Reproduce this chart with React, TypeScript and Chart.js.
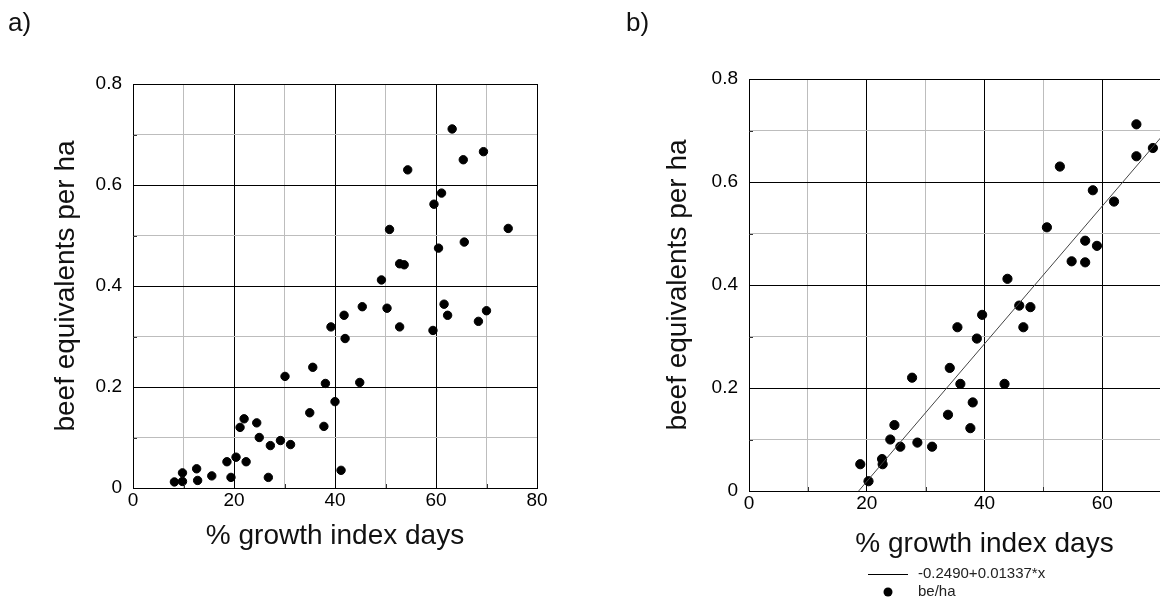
import React, { useEffect, useRef } from "react";
import { Chart, registerables } from "chart.js";

Chart.register(...registerables);

// ---- Data ----
const aX = [8.2, 9.8, 9.8, 12.6, 12.8, 15.6, 18.6, 19.4, 20.4, 22.4, 21.2, 22.0, 24.5, 25.0, 26.8, 27.2, 29.2, 31.2, 30.1, 35.0, 35.6, 37.8, 38.1, 40.0, 41.2, 39.2, 41.8, 42.0, 44.9, 45.4, 49.2, 50.3, 50.8, 52.8, 52.8, 53.7, 54.4, 59.4, 59.6, 60.5, 61.1, 61.6, 62.3, 63.2, 65.4, 65.6, 68.4, 69.4, 70.0, 74.3];
const aY = [0.012, 0.013, 0.030, 0.038, 0.015, 0.024, 0.052, 0.021, 0.061, 0.052, 0.120, 0.137, 0.129, 0.100, 0.021, 0.084, 0.094, 0.086, 0.221, 0.149, 0.239, 0.122, 0.207, 0.171, 0.035, 0.319, 0.342, 0.296, 0.209, 0.359, 0.412, 0.356, 0.512, 0.319, 0.444, 0.442, 0.630, 0.312, 0.562, 0.475, 0.584, 0.364, 0.342, 0.711, 0.650, 0.487, 0.330, 0.666, 0.351, 0.514];

const bX = [18.9, 20.3, 22.6, 22.7, 24.0, 24.7, 25.7, 27.7, 28.6, 31.1, 33.8, 34.1, 35.4, 35.9, 37.6, 38.0, 38.7, 39.6, 43.4, 43.9, 45.9, 46.6, 47.8, 50.6, 52.8, 54.8, 57.1, 57.1, 58.4, 59.1, 62.0, 65.8, 65.8, 68.6];
const bY = [0.052, 0.019, 0.062, 0.052, 0.100, 0.128, 0.086, 0.220, 0.094, 0.086, 0.148, 0.239, 0.318, 0.208, 0.122, 0.172, 0.296, 0.342, 0.208, 0.412, 0.360, 0.318, 0.357, 0.512, 0.630, 0.446, 0.486, 0.444, 0.584, 0.476, 0.562, 0.712, 0.650, 0.666];

// fitted line endpoints as drawn
const regX = [18.62, 80];
const regY = [0, 0.8206];

const xTickLabels = ["0", "20", "40", "60", "80"];
const yTickLabels = ["0", "0.2", "0.4", "0.6", "0.8"];
const xMinorTicks = [10, 30, 50, 70];
const yMinorTicks = [0.1, 0.3, 0.5, 0.7];
const xTitle = "% growth index days";
const yTitle = "beef equivalents per ha";
const legendLineLabel = "-0.2490+0.01337*x";
const legendDotLabel = "be/ha";
const panelLabels = ["a)", "b)"];

const FONT = "'Liberation Sans', Arial, Helvetica, sans-serif";

function pts(xs: number[], ys: number[]) {
  return xs.map((x, i) => ({ x, y: ys[i] }));
}

function makeScales(yWidth: number, xHeight: number, yTitlePad: number, xTitlePad: number) {
  return {
    x: {
      type: "linear",
      min: 0,
      max: 80,
      afterFit: (s: any) => {
        s.height = xHeight;
      },
      ticks: {
        stepSize: 10,
        padding: 1,
        color: "#000",
        font: { family: FONT, size: 19 },
        maxRotation: 0,
        autoSkip: false,
        callback: (v: number) => {
          const idx = Math.round(v / 20);
          return Math.abs(v - idx * 20) < 1e-6 ? xTickLabels[idx] : "";
        },
      },
      grid: {
        drawTicks: false,
        color: (c: any) => (Math.round(c.tick.value) % 20 === 0 ? "#000" : "#bdbdbd"),
        lineWidth: 1,
      },
      border: { color: "#000", width: 1 },
      title: {
        display: true,
        text: xTitle,
        color: "#111",
        font: { family: FONT, size: 28 },
        padding: { top: 0, bottom: xTitlePad },
      },
    },
    y: {
      type: "linear",
      min: 0,
      max: 0.8,
      afterFit: (s: any) => {
        s.width = yWidth;
      },
      ticks: {
        stepSize: 0.1,
        padding: 11,
        color: "#000",
        font: { family: FONT, size: 19 },
        autoSkip: false,
        callback: (v: number) => {
          const n = Math.round(v * 10);
          return n % 2 === 0 ? yTickLabels[n / 2] : "";
        },
      },
      grid: {
        drawTicks: false,
        color: (c: any) => (Math.round(c.tick.value * 10) % 2 === 0 ? "#000" : "#bdbdbd"),
        lineWidth: 1,
      },
      border: { color: "#000", width: 1 },
      title: {
        display: true,
        text: yTitle,
        color: "#111",
        font: { family: FONT, size: 28 },
        padding: { top: yTitlePad, bottom: 0 },
      },
    },
  };
}

// short dark minor tick marks on the inside of the axes
const minorTickPlugin = {
  id: "minorTicks",
  afterDatasetsDraw(chart: any) {
    const { ctx, chartArea, scales } = chart;
    ctx.save();
    ctx.strokeStyle = "#333";
    ctx.lineWidth = 1;
    ctx.beginPath();
    yMinorTicks.forEach((v) => {
      const py = Math.round(scales.y.getPixelForValue(v)) + 0.5;
      ctx.moveTo(chartArea.left, py);
      ctx.lineTo(chartArea.left + 4, py);
    });
    xMinorTicks.forEach((v) => {
      const px = Math.round(scales.x.getPixelForValue(v)) + 0.5;
      ctx.moveTo(px, chartArea.bottom);
      ctx.lineTo(px, chartArea.bottom - 4);
    });
    ctx.stroke();
    ctx.restore();
  },
};

const legendPlugin = {
  id: "eqLegend",
  afterDraw(chart: any) {
    const ctx = chart.ctx;
    ctx.save();
    ctx.strokeStyle = "#000";
    ctx.lineWidth = 1;
    ctx.beginPath();
    ctx.moveTo(288, 574.5);
    ctx.lineTo(328, 574.5);
    ctx.stroke();
    ctx.fillStyle = "#000";
    ctx.beginPath();
    ctx.arc(308, 592, 4.5, 0, Math.PI * 2);
    ctx.fill();
    ctx.fillStyle = "#222";
    ctx.font = `15px ${FONT}`;
    ctx.textBaseline = "middle";
    ctx.textAlign = "left";
    ctx.fillText(legendLineLabel, 338, 574);
    ctx.fillText(legendDotLabel, 338, 592);
    ctx.restore();
  },
};

function PanelA() {
  const ref = useRef<HTMLCanvasElement>(null);
  useEffect(() => {
    const chart = new Chart(ref.current as HTMLCanvasElement, {
      type: "scatter",
      data: {
        datasets: [
          {
            label: "be/ha",
            data: pts(aX, aY),
            backgroundColor: "#000",
            borderColor: "#000",
            pointRadius: 4.2,
            pointHoverRadius: 4.2,
          },
        ],
      },
      options: {
        animation: false,
        responsive: false,
        devicePixelRatio: 1,
        layout: { padding: { left: 0, right: 43, top: 84, bottom: 0 } },
        plugins: { legend: { display: false }, tooltip: { enabled: false } },
        scales: makeScales(133, 116, 49, 51) as any,
      },
      plugins: [minorTickPlugin],
    });
    return () => chart.destroy();
  }, []);
  return <canvas ref={ref} width={580} height={604} style={{ position: "absolute", left: 0, top: 0 }} />;
}

function PanelB() {
  const ref = useRef<HTMLCanvasElement>(null);
  useEffect(() => {
    const chart = new Chart(ref.current as HTMLCanvasElement, {
      type: "scatter",
      data: {
        datasets: [
          {
            label: legendLineLabel,
            data: pts(regX, regY),
            showLine: true,
            borderColor: "#444",
            borderWidth: 1,
            pointRadius: 0,
            pointHoverRadius: 0,
          },
          {
            label: legendDotLabel,
            data: pts(bX, bY),
            backgroundColor: "#000",
            borderColor: "#000",
            pointRadius: 4.6,
            pointHoverRadius: 4.6,
          },
        ],
      },
      options: {
        animation: false,
        responsive: false,
        devicePixelRatio: 1,
        layout: { padding: { left: 0, right: 60, top: 79, bottom: 0 } },
        plugins: { legend: { display: false }, tooltip: { enabled: false } },
        scales: makeScales(169, 113, 81, 43) as any,
      },
      plugins: [minorTickPlugin, legendPlugin],
    });
    return () => chart.destroy();
  }, []);
  return <canvas ref={ref} width={700} height={604} style={{ position: "absolute", left: 580, top: 0 }} />;
}

export default function App() {
  const labelStyle: React.CSSProperties = {
    position: "absolute",
    top: 7,
    fontFamily: FONT,
    fontSize: 26,
    color: "#111",
    lineHeight: "30px",
  };
  return (
    <div
      style={{
        position: "fixed",
        left: 0,
        top: 0,
        width: 1160,
        height: 604,
        overflow: "hidden",
        background: "#fff",
      }}
    >
      <PanelA />
      <PanelB />
      <div style={{ ...labelStyle, left: 8 }}>{panelLabels[0]}</div>
      <div style={{ ...labelStyle, left: 626 }}>{panelLabels[1]}</div>
    </div>
  );
}
